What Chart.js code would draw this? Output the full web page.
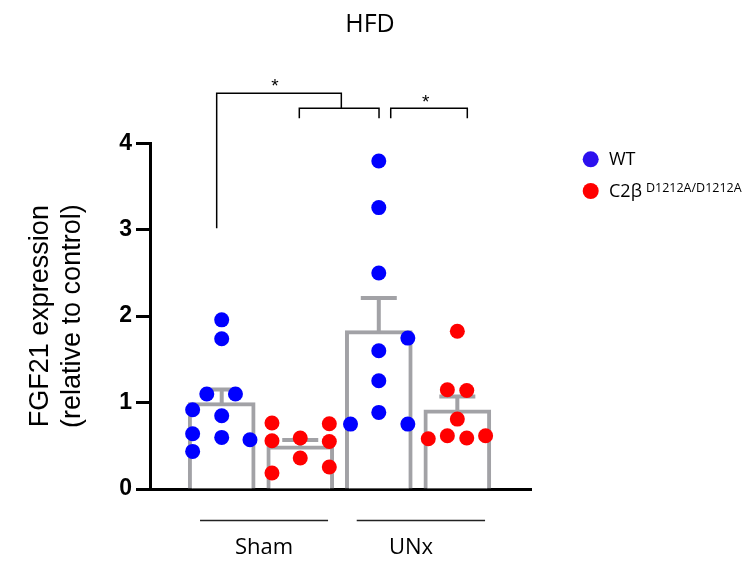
<!DOCTYPE html>
<html><head><meta charset="utf-8">
<script src="https://cdn.jsdelivr.net/npm/chart.js@4/dist/chart.umd.min.js"></script>
<style>html,body{margin:0;padding:0;background:#fff}#wrap{width:756px;height:567px}</style>
</head><body><div id="wrap"><canvas id="c" width="756" height="567"></canvas></div>
<script>
// ---- data ----
const chartTitle = 'HFD';
const groupNames = ['Sham', 'UNx'];
const seriesNames = ['WT', 'C2β'];
const seriesSuper = ['', 'D1212A/D1212A'];
const barLabels = ['Sham WT', 'Sham C2β', 'UNx WT', 'UNx C2β'];
const barMeans = [1.0, 0.50, 1.833, 0.917];
const barSEM = [0.151, 0.066, 0.378, 0.152];
const yTickValues = [0, 1, 2, 3, 4];

const shamWT   = [1.957, 1.738, 1.10, 1.10, 0.917, 0.847, 0.64, 0.597, 0.57, 0.435];
const shamWTdx = [0, 0, -0.19, 0.175, -0.37, 0, -0.37, 0, 0.36, -0.37];
const shamC2   = [0.763, 0.558, 0.59, 0.755, 0.55, 0.358, 0.254, 0.185];
const shamC2dx = [-0.36, -0.36, 0, 0.37, 0.37, 0, 0.37, -0.36];
const unxWT    = [3.795, 3.256, 2.50, 1.746, 1.599, 1.252, 0.886, 0.751, 0.751];
const unxWTdx  = [0, 0, 0, 0.37, 0, 0, 0, -0.36, 0.37];
const unxC2    = [1.826, 1.148, 1.14, 0.809, 0.581, 0.616, 0.59, 0.616];
const unxC2dx  = [0, -0.127, 0.12, 0, -0.37, -0.127, 0.12, 0.36];

// ---- build ----
const pts = (vals, dx, idx) => vals.map((v, i) => ({ x: idx + dx[i], y: v }));
const wtPoints = pts(shamWT, shamWTdx, 0).concat(pts(unxWT, unxWTdx, 2));
const c2Points = pts(shamC2, shamC2dx, 1).concat(pts(unxC2, unxC2dx, 3));

const GRAY = '#a2a2a6';
const BLUE = '#0000ff';
const RED = '#ff0000';
const groupCenters = [0.539, 2.41];

const annot = {
  id: 'annot',
  afterDatasetDraw(chart, args) {
    if (args.index !== 0) return;
    const ctx = chart.ctx, xs = chart.scales.x, ys = chart.scales.y;
    ctx.save();
    ctx.strokeStyle = GRAY; ctx.lineWidth = 4; ctx.lineCap = 'butt';
    barMeans.forEach((m, i) => {
      const x = xs.getPixelForValue(i);
      const y0 = ys.getPixelForValue(m);
      const y1 = ys.getPixelForValue(m + barSEM[i]);
      ctx.beginPath();
      ctx.moveTo(x, y0 + 2); ctx.lineTo(x, y1);
      ctx.moveTo(x - 18, y1); ctx.lineTo(x + 18, y1);
      ctx.stroke();
    });
    ctx.restore();
  },
  afterDraw(chart) {
    const ctx = chart.ctx, xs = chart.scales.x, ys = chart.scales.y;
    const X = v => xs.getPixelForValue(v), Y = v => ys.getPixelForValue(v);
    ctx.save();
    // significance brackets
    ctx.strokeStyle = '#000'; ctx.lineWidth = 1.5;
    const seg = (pts) => { ctx.beginPath(); ctx.moveTo(pts[0][0], pts[0][1]); for (let k = 1; k < pts.length; k++) ctx.lineTo(pts[k][0], pts[k][1]); ctx.stroke(); };
    seg([[X(-0.064), Y(3.017)], [X(-0.064), Y(4.578)], [X(1.523), Y(4.578)], [X(1.523), Y(4.405)]]);
    seg([[X(0.988), Y(4.289)], [X(0.988), Y(4.405)], [X(2.003), Y(4.405)], [X(2.003), Y(4.289)]]);
    seg([[X(2.152), Y(4.289)], [X(2.152), Y(4.405)], [X(3.127), Y(4.405)], [X(3.127), Y(4.289)]]);
    ctx.fillStyle = '#000';
    ctx.font = '19px "Liberation Sans", Arial, sans-serif';
    ctx.textAlign = 'center'; ctx.textBaseline = 'alphabetic';
    ctx.fillText('*', X(0.679), Y(4.72) + 10.8);
    ctx.fillText('*', X(2.598), Y(4.53) + 10.8);
    // group lines under the axis
    ctx.strokeStyle = '#222'; ctx.lineWidth = 1.3;
    const gy = xs.top + 31.5;
    seg([[X(-0.276), gy], [X(1.354), gy]]);
    seg([[X(1.719), gy], [X(3.353), gy]]);
    // chart title
    ctx.font = '25px "Open Sans", sans-serif';
    ctx.fillStyle = '#000';
    ctx.textAlign = 'center';
    ctx.fillText(chartTitle, 370, 32);
    // legend
    ctx.textAlign = 'left';
    const lx = 590.7, ly = [159.3, 191];
    const lc = ['#2c10ee', RED];
    for (let k = 0; k < 2; k++) {
      ctx.fillStyle = lc[k];
      ctx.beginPath(); ctx.arc(lx, ly[k], 8, 0, Math.PI * 2); ctx.fill();
    }
    ctx.fillStyle = '#000';
    ctx.font = '18px "Open Sans", sans-serif';
    ctx.fillText(seriesNames[0], 609, 164.5);
    ctx.fillText(seriesNames[1], 609, 196.5);
    const w = ctx.measureText(seriesNames[1]).width;
    ctx.font = '12.5px "Open Sans", sans-serif';
    ctx.fillText(seriesSuper[1], 609 + w + 4, 192);
    ctx.restore();
  }
};

new Chart(document.getElementById('c'), {
  type: 'scatter',
  data: {
    datasets: [
      { type: 'bar', label: 'mean', data: barMeans.map((v, i) => ({ x: i, y: v })),
        backgroundColor: '#ffffff', borderColor: GRAY, borderWidth: 4, barThickness: 67, order: 3 },
      { type: 'scatter', label: seriesNames[0], data: wtPoints, backgroundColor: BLUE,
        pointRadius: 7.5, borderWidth: 0, pointHoverRadius: 7.5, order: 1 },
      { type: 'scatter', label: seriesNames[1], data: c2Points, backgroundColor: RED,
        pointRadius: 7.5, borderWidth: 0, pointHoverRadius: 7.5, order: 1 }
    ]
  },
  options: {
    responsive: false,
    animation: false,
    devicePixelRatio: 1,
    layout: { padding: { top: 143.3, right: 225, bottom: 0, left: 0 } },
    plugins: { legend: { display: false }, tooltip: { enabled: false }, title: { display: false } },
    scales: {
      x: {
        type: 'linear', min: -0.913, max: 3.938, offset: false,
        grid: { display: false, drawTicks: false, offset: false },
        border: { display: true, color: '#000', width: 3 },
        afterBuildTicks: s => { s.ticks = groupCenters.map(v => ({ value: v })); },
        ticks: { autoSkip: false, maxRotation: 0, minRotation: 0, padding: 46, color: '#000',
          font: { family: '"Open Sans", sans-serif', size: 22 },
          callback: (v, i) => groupNames[i] },
        afterFit: s => { s.height = 78; }
      },
      y: {
        min: 0, max: 4,
        afterBuildTicks: s => { s.ticks = yTickValues.map(v => ({ value: v })); },
        ticks: { padding: 4, color: '#000', font: { family: '"Liberation Sans", Arial, sans-serif', size: 23, weight: 'bold' } },
        grid: { display: true, drawOnChartArea: false, drawTicks: true, tickLength: 14, tickWidth: 3, tickColor: '#000' },
        border: { display: true, color: '#000', width: 3 },
        title: { display: true, text: ['FGF21 expression', '(relative to control)'], color: '#000',
          font: { family: '"Liberation Sans", Arial, sans-serif', size: 27, lineHeight: 1.19 },
          padding: { top: 24, bottom: 0 } },
        afterFit: s => { s.width = 150; }
      }
    }
  },
  plugins: [annot]
});
</script></body></html>
